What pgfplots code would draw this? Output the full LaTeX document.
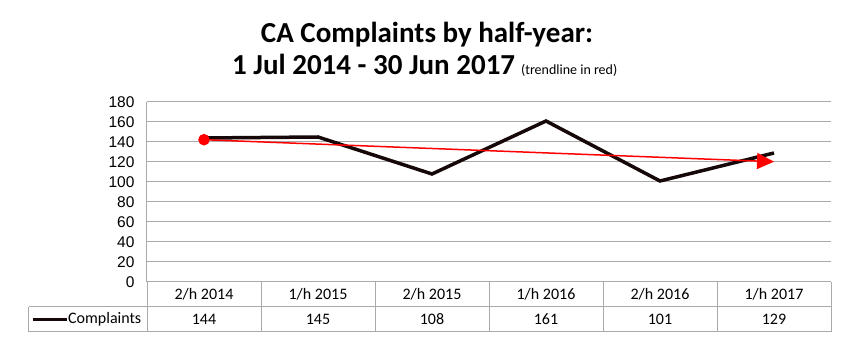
\documentclass[border=0pt]{standalone}
\usepackage{fontspec}
\setmainfont{Carlito}
\newfontfamily\arialfont{Liberation Sans}
\usepackage{pgfplots}
\pgfplotsset{compat=1.18}
\usetikzlibrary{arrows.meta}
\definecolor{gridgray}{RGB}{170,170,170}
\definecolor{lineblk}{RGB}{22,8,8}
\begin{document}
\begin{tikzpicture}
\useasboundingbox (-147pt,-68pt) rectangle (703pt,282pt);
\begin{axis}[
  at={(0,0)}, anchor=south west,
  scale only axis, width=684pt, height=180pt,
  xmin=-0.5, xmax=5.5, ymin=0, ymax=180,
  ytick={0,20,...,180},
  ymajorgrids, grid style={gridgray, line width=1pt},
  axis lines*=left,
  axis line style={gridgray, line width=1pt},
  xtick=\empty,
  major tick length=0pt,
  /pgf/number format/assume math mode=true,
  yticklabel style={font=\arialfont\fontsize{15.5}{18}\selectfont, anchor=east, xshift=-9pt},
  clip=false,
]
\addplot[lineblk, line width=3.5pt] coordinates {(0,144)(1,145)(2,108)(3,161)(4,101)(5,129)};
\addplot[red, line width=1.5pt, -{Triangle[length=17pt,width=16pt]},
  mark=*, mark size=5pt, mark indices={1}, mark options={solid, fill=red, draw=red}]
  coordinates {(0,142.3)(5,120.3)};
\end{axis}
% data table
\begin{scope}[gridgray, line width=1pt]
\draw (-118pt,-25pt) -- (684pt,-25pt);
\draw (-118pt,-50pt) -- (684pt,-50pt);
\draw (-118pt,-25pt) -- (-118pt,-50pt);
\foreach \i in {0,1,...,6} {\draw (\i*114pt,0pt) -- (\i*114pt,-50pt);}
\end{scope}
\begin{scope}[font=\fontsize{16}{18}\selectfont]
\foreach \lab [count=\i from 0] in {2/h 2014,1/h 2015,2/h 2015,1/h 2016,2/h 2016,1/h 2017}
  {\node[anchor=center] at ({(\i+0.5)*114pt},-12.5pt) {\lab};}
\foreach \v [count=\i from 0] in {144,145,108,161,101,129}
  {\node[anchor=center] at ({(\i+0.5)*114pt},-37.5pt) {\v};}
\draw[lineblk, line width=3.5pt] (-114pt,-37.5pt) -- (-80pt,-37.5pt);
\node[anchor=west, inner sep=0pt] at (-79pt,-37.5pt) {Complaints};
\end{scope}
% title
\node[anchor=base, inner sep=0pt] at (280pt,239pt) {\fontsize{29}{34}\selectfont\bfseries CA Complaints by half-year:};
\node[anchor=base west, inner sep=0pt] at (85pt,207pt) {\fontsize{29}{34}\selectfont\bfseries 1 Jul 2014 - 30 Jun 2017\hspace{6pt}{\mdseries\fontsize{14}{16}\selectfont (trendline in red)}};
\end{tikzpicture}
\end{document}
